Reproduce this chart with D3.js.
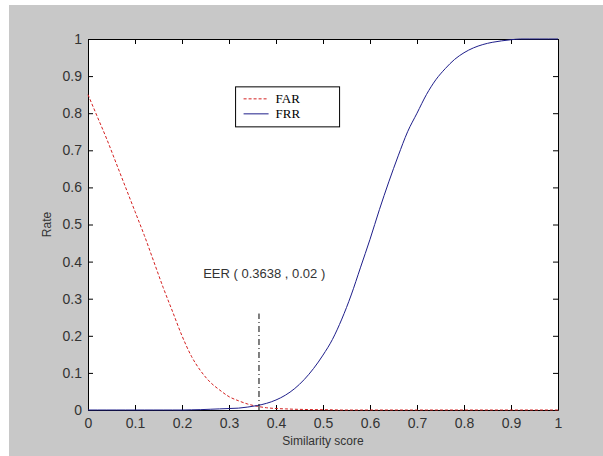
<!DOCTYPE html>
<html>
<head>
<meta charset="utf-8">
<script src="https://cdn.jsdelivr.net/npm/d3@7"></script>
<style>
  body { margin: 0; background: #fff; }
  svg { display: block; }
</style>
</head>
<body>
<svg id="chart"></svg>
<script>
// scores sampled along the x axis
const scores = [0, 0.02, 0.04, 0.06, 0.08, 0.10, 0.12, 0.14, 0.16, 0.18, 0.20, 0.22, 0.24, 0.26, 0.28, 0.30,
  0.32, 0.34, 0.36, 0.38, 0.40, 0.42, 0.44, 0.46, 0.48, 0.50, 0.52, 0.54, 0.56, 0.58, 0.60, 0.62, 0.64,
  0.66, 0.68, 0.70, 0.72, 0.74, 0.76, 0.78, 0.80, 0.82, 0.84, 0.86, 0.88, 0.90, 0.92, 0.94, 0.96, 0.98, 1.0];
const farValues = [0.85, 0.79, 0.73, 0.665, 0.60, 0.535, 0.47, 0.40, 0.33, 0.265, 0.20, 0.145, 0.105, 0.075, 0.054, 0.036,
  0.025, 0.016, 0.010, 0.006, 0.004, 0.003, 0.002, 0.0015, 0.001, 0.001, 0.0005, 0, 0, 0, 0, 0, 0,
  0, 0, 0, 0, 0, 0, 0, 0, 0, 0, 0, 0, 0, 0, 0, 0, 0, 0];
const frrValues = [0, 0, 0, 0, 0, 0, 0, 0, 0, 0, 0, 0.0005, 0.001, 0.002, 0.003, 0.004,
  0.005, 0.008, 0.012, 0.018, 0.027, 0.04, 0.058, 0.082, 0.112, 0.148, 0.19, 0.245, 0.31, 0.385, 0.46, 0.54, 0.615,
  0.685, 0.75, 0.80, 0.85, 0.89, 0.92, 0.945, 0.963, 0.976, 0.985, 0.991, 0.995, 0.998, 1.0, 1.0, 1.0, 1.0, 1.0];
const tickValues = [0, 0.1, 0.2, 0.3, 0.4, 0.5, 0.6, 0.7, 0.8, 0.9, 1];
const eer = { x: 0.3638, y: 0.02, top: 0.26 };
const legendNames = ["FAR", "FRR"];

const W = 603, H = 456;
const margin = { left: 88, top: 39, right: 45, bottom: 46 };
const innerW = W - margin.left - margin.right;
const innerH = H - margin.top - margin.bottom;

const svg = d3.select("#chart").attr("width", W).attr("height", H);

svg.append("rect").attr("x", 9).attr("y", 5).attr("width", W - 9).attr("height", H - 5).attr("fill", "#c8c8c8");

const g = svg.append("g").attr("transform", `translate(${margin.left},${margin.top})`);
g.append("rect").attr("width", innerW).attr("height", innerH).attr("fill", "#fff");

const x = d3.scaleLinear().domain([0, 1]).range([0, innerW]);
const y = d3.scaleLinear().domain([0, 1]).range([innerH, 0]);

const fmt = d => d === 0 || d === 1 ? String(d) : d3.format(".1f")(d);
const tickFont = "'Liberation Sans', Arial, sans-serif";

function styleAxis(sel, showLabels) {
  sel.select(".domain").attr("stroke", "#000");
  sel.selectAll(".tick line").attr("stroke", "#000");
  sel.selectAll(".tick text").attr("fill", "#333").style("font-family", tickFont).style("font-size", "14px");
  if (!showLabels) sel.selectAll(".tick text").remove();
}

// ticks point inward like MATLAB
g.append("g").attr("transform", `translate(0,${innerH})`)
  .call(d3.axisBottom(x).tickValues(tickValues).tickFormat(fmt).tickSizeInner(-5).tickSizeOuter(0).tickPadding(8))
  .call(s => styleAxis(s, true));
g.append("g")
  .call(d3.axisTop(x).tickValues(tickValues).tickSizeInner(-5).tickSizeOuter(0))
  .call(s => styleAxis(s, false));
g.append("g")
  .call(d3.axisLeft(y).tickValues(tickValues).tickFormat(fmt).tickSizeInner(-5).tickSizeOuter(0).tickPadding(6))
  .call(s => styleAxis(s, true));
g.append("g").attr("transform", `translate(${innerW},0)`)
  .call(d3.axisRight(y).tickValues(tickValues).tickSizeInner(-5).tickSizeOuter(0))
  .call(s => styleAxis(s, false));

const line = series => d3.line().curve(d3.curveMonotoneX).x((d, i) => x(scores[i])).y(d => y(d))(series);

g.append("path").attr("d", line(farValues)).attr("fill", "none")
  .attr("stroke", "#d42020").attr("stroke-width", 1).attr("stroke-dasharray", "3,2");
g.append("path").attr("d", line(frrValues)).attr("fill", "none")
  .attr("stroke", "#1e1e8a").attr("stroke-width", 1);

// EER marker
g.append("line")
  .attr("x1", x(eer.x)).attr("x2", x(eer.x)).attr("y1", y(0)).attr("y2", y(eer.top))
  .attr("stroke", "#000").attr("stroke-dasharray", "6,3,1,3");
g.append("text")
  .attr("x", x(0.245)).attr("y", y(0.356))
  .style("font-family", tickFont).style("font-size", "13px").attr("fill", "#333")
  .text(`EER ( ${eer.x} ,  ${eer.y} )`);

// legend
const leg = g.append("g").attr("transform", `translate(${x(0.314)},${y(0.871)})`);
leg.append("rect").attr("width", 104).attr("height", 40).attr("fill", "#fff").attr("stroke", "#000");
const legStyles = [{ c: "#d42020", dash: "3,2" }, { c: "#1e1e8a", dash: null }];
legendNames.forEach((n, i) => {
  const yy = 12 + i * 15;
  leg.append("line").attr("x1", 8).attr("x2", 33).attr("y1", yy).attr("y2", yy)
    .attr("stroke", legStyles[i].c).attr("stroke-dasharray", legStyles[i].dash);
  leg.append("text").attr("x", 40).attr("y", yy + 4.5)
    .style("font-family", "'Liberation Serif', 'Times New Roman', serif").style("font-size", "13px")
    .attr("fill", "#000").text(n);
});

// axis titles
svg.append("text").attr("x", margin.left + innerW / 2).attr("y", 445).attr("text-anchor", "middle")
  .style("font-family", tickFont).style("font-size", "12px").attr("fill", "#333").text("Similarity score");
svg.append("text").attr("transform", `translate(51,${margin.top + innerH / 2}) rotate(-90)`).attr("text-anchor", "middle")
  .style("font-family", tickFont).style("font-size", "12px").attr("fill", "#333").text("Rate");
</script>
</body>
</html>
